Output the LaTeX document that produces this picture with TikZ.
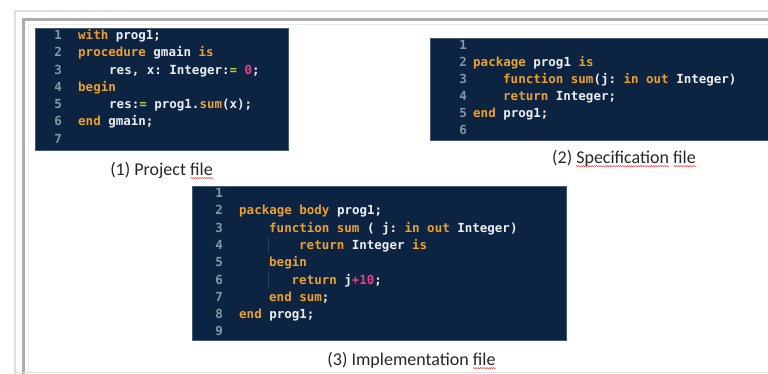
\documentclass[tikz,border=0pt]{standalone}
\usepackage{fontspec}
\setmainfont{Carlito}
\newfontfamily\codefont{DejaVu Sans Mono Bold}
\usetikzlibrary{decorations.pathmorphing}
\definecolor{navy}{RGB}{12,36,66}
\definecolor{boxedge}{RGB}{70,90,115}
\definecolor{guide}{RGB}{45,66,96}
\definecolor{kwcol}{RGB}{236,160,44}
\definecolor{numcol}{RGB}{232,62,132}
\definecolor{opcol}{RGB}{172,205,72}
\definecolor{lncol}{RGB}{132,150,170}
\definecolor{txtcol}{RGB}{236,239,243}
\newcommand{\kw}[1]{\textcolor{kwcol}{#1}}
\newcommand{\nm}[1]{\textcolor{numcol}{#1}}
\newcommand{\op}[1]{\textcolor{opcol}{#1}}
\frenchspacing
\tikzset{
  codebox/.style={fill=navy, draw=boxedge, line width=0.5pt},
  lnum/.style={anchor=base east, inner sep=0pt, text=lncol, font=\codefont\fontsize{12.5}{14}\selectfont},
  codeln/.style={anchor=base west, inner sep=0pt, text=txtcol, font=\codefont\fontsize{12.5}{14}\selectfont},
  caption/.style={inner sep=0pt, text=black!85, font=\fontsize{18}{21}\selectfont},
  spellerr/.style={draw=red!75, line width=0.5pt, decorate, decoration={snake, amplitude=0.6pt, segment length=2.2pt}}
}
\begin{document}
\begin{tikzpicture}[x=1pt, y=-1pt]
\useasboundingbox (0,0) rectangle (768,374);
% frame
\draw [gray!25, line width=2pt] (15,374) -- (15,11) -- (770,11);
\draw [gray!65, line width=3pt] (23,374) -- (23,20) -- (770,20);
\draw [gray!15, line width=1pt] (28,374) -- (28,25) -- (770,25);
\draw [gray!25, line width=1.5pt] (15,372.5) -- (770,372.5);
% (1) project file
\draw [codebox] (35,28) rectangle (288,150);
\foreach \i in {1,...,7}
  \node [lnum] (pn\i) at (62, {39.5+17.3*(\i-1)}) {\i};
\node [codeln] (pc1) at (78, 39.5) {\kw{with} prog1;};
\node [codeln] (pc2) at (78, 56.8) {\kw{procedure} gmain \kw{is}};
\node [codeln] (pc3) at (109, 74.1) {res, x: Integer:\op{=} \nm{0};};
\node [codeln] (pc4) at (78, 91.4) {\kw{begin}};
\node [codeln] (pc5) at (109, 108.7) {res:\op{=} prog1.\kw{sum}(x);};
\node [codeln] (pc6) at (78, 126) {\kw{end} gmain;};
\node [caption] (cap1) at (161.5,170) {(1) Project file};
\draw [spellerr] ([xshift=-22.5pt, yshift=-3pt]cap1.base east) -- ([yshift=-3pt]cap1.base east);
% (2) specification file
\draw [codebox] (430,38) rectangle (772,140);
\foreach \i in {1,...,6}
  \node [lnum] (sn\i) at (467, {50+16.9*(\i-1)}) {\i};
\node [codeln] (sc2) at (473, 66.9) {\kw{package} prog1 \kw{is}};
\node [codeln] (sc3) at (503, 83.8) {\kw{function} \kw{sum}(j: \kw{in} \kw{out} Integer)};
\node [codeln] (sc4) at (503, 100.7) {\kw{return} Integer;};
\node [codeln] (sc5) at (473, 117.6) {\kw{end} prog1;};
\node [caption] (cap2) at (624,158) {(2) Specification file};
\draw [spellerr] ([xshift=-120pt, yshift=-3pt]cap2.base east) -- ([xshift=-27pt, yshift=-3pt]cap2.base east);
\draw [spellerr] ([xshift=-22.5pt, yshift=-3pt]cap2.base east) -- ([yshift=-3pt]cap2.base east);
% (3) implementation file
\draw [codebox] (192,186) rectangle (566,340);
\draw [guide, line width=0.6pt] (268,237) -- (268,253);
\draw [guide, line width=0.6pt] (268,271) -- (268,288);
\foreach \i in {1,...,9}
  \node [lnum] (in\i) at (223, {197.5+17.3*(\i-1)}) {\i};
\node [codeln] (ic2) at (239, 214.8) {\kw{package} \kw{body} prog1;};
\node [codeln] (ic3) at (269, 232.1) {\kw{function} \kw{sum} ( j: \kw{in} \kw{out} Integer)};
\node [codeln] (ic4) at (299, 249.4) {\kw{return} Integer \kw{is}};
\node [codeln] (ic5) at (269, 266.7) {\kw{begin}};
\node [codeln] (ic6) at (291.5, 284) {\kw{return} j\nm{+10};};
\node [codeln] (ic7) at (269, 301.3) {\kw{end} \kw{sum};};
\node [codeln] (ic8) at (239, 318.6) {\kw{end} prog1;};
\node [caption] (cap3) at (411.5,360) {(3) Implementation file};
\draw [spellerr] ([xshift=-22.5pt, yshift=-3pt]cap3.base east) -- ([yshift=-3pt]cap3.base east);
\end{tikzpicture}
\end{document}
